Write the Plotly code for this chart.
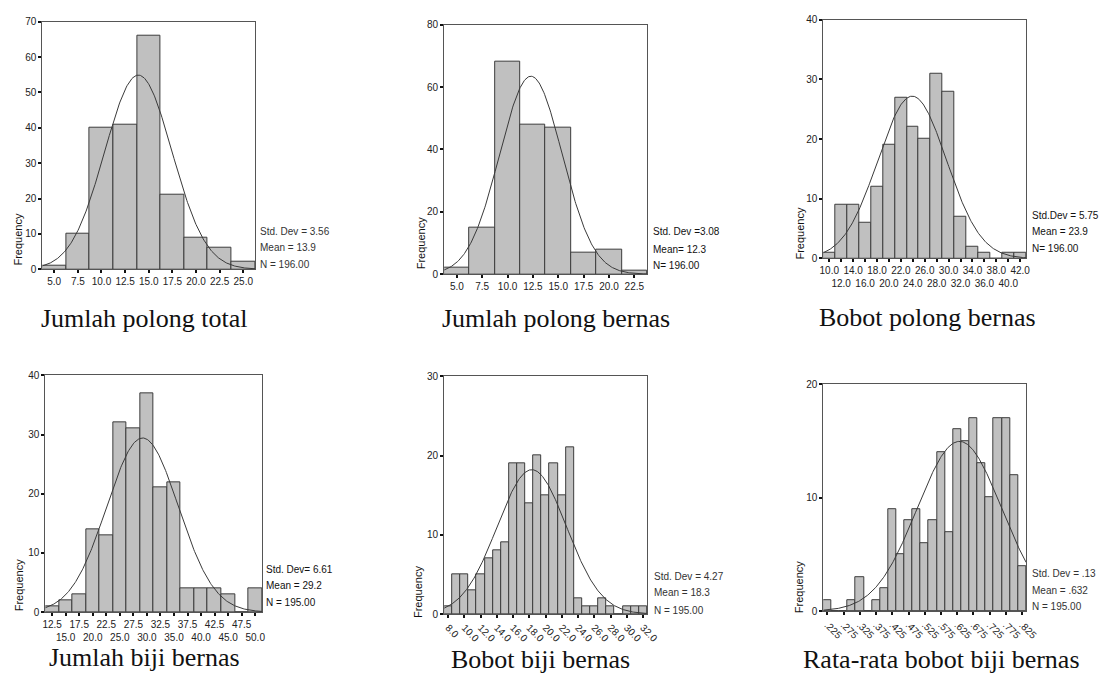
import numpy as np
import plotly.graph_objects as go

W, H = 1114, 679

# ---------------- data ----------------
p1_centers = [5.0, 7.5, 10.0, 12.5, 15.0, 17.5, 20.0, 22.5, 25.0]
p1_counts = [1, 10, 40, 41, 66, 21, 9, 6, 2]
p1_ticks = ["5.0", "7.5", "10.0", "12.5", "15.0", "17.5", "20.0", "22.5", "25.0"]

p2_centers = [5.0, 7.5, 10.0, 12.5, 15.0, 17.5, 20.0, 22.5]
p2_counts = [2, 15, 68, 48, 47, 7, 8, 1]
p2_ticks = ["5.0", "7.5", "10.0", "12.5", "15.0", "17.5", "20.0", "22.5"]

p3_centers = [10, 12, 14, 16, 18, 20, 22, 24, 26, 28, 30, 32, 34, 36, 38, 40, 42]
p3_counts = [1, 9, 9, 6, 12, 19, 27, 22, 20, 31, 28, 7, 2, 1, 0, 1, 1]
p3_ticks = ["10.0", "12.0", "14.0", "16.0", "18.0", "20.0", "22.0", "24.0", "26.0",
            "28.0", "30.0", "32.0", "34.0", "36.0", "38.0", "40.0", "42.0"]

p4_centers = [12.5, 15.0, 17.5, 20.0, 22.5, 25.0, 27.5, 30.0, 32.5, 35.0, 37.5,
              40.0, 42.5, 45.0, 47.5, 50.0]
p4_counts = [1, 2, 3, 14, 13, 32, 31, 37, 21, 22, 4, 4, 4, 3, 0, 4]
p4_ticks = ["12.5", "15.0", "17.5", "20.0", "22.5", "25.0", "27.5", "30.0", "32.5",
            "35.0", "37.5", "40.0", "42.5", "45.0", "47.5", "50.0"]

p5_centers = [8, 9, 10, 11, 12, 13, 14, 15, 16, 17, 18, 19, 20, 21, 22, 23, 24, 25,
              26, 27, 28, 29, 30, 31, 32]
p5_counts = [1, 5, 5, 3, 5, 7, 8, 9, 19, 19, 14, 20, 15, 19, 15, 21, 2, 1, 1, 2, 1,
             0, 1, 1, 1]
p5_tickvals = [8, 10, 12, 14, 16, 18, 20, 22, 24, 26, 28, 30, 32]
p5_ticks = ["8.0", "10.0", "12.0", "14.0", "16.0", "18.0", "20.0", "22.0", "24.0",
            "26.0", "28.0", "30.0", "32.0"]

p6_centers = [0.225, 0.250, 0.275, 0.300, 0.325, 0.350, 0.375, 0.400, 0.425, 0.450,
              0.475, 0.500, 0.525, 0.550, 0.575, 0.600, 0.625, 0.650, 0.675, 0.700,
              0.725, 0.750, 0.775, 0.800, 0.825]
p6_counts = [1, 0, 0, 1, 3, 0, 1, 2, 9, 5, 8, 9, 6, 8, 14, 7, 16, 15, 17, 13, 10, 17,
             17, 12, 4]
p6_tickvals = [0.225, 0.275, 0.325, 0.375, 0.425, 0.475, 0.525, 0.575, 0.625, 0.675,
               0.725, 0.775, 0.825]
p6_ticks = [".225", ".275", ".325", ".375", ".425", ".475", ".525", ".575", ".625",
            ".675", ".725", ".775", ".825"]

stats_sd = [3.56, 3.08, 5.75, 6.61, 4.27, 0.13]
stats_mean = [13.9, 12.3, 23.9, 29.2, 18.3, 0.632]
stats_n = [196, 196, 196, 195, 195, 195]
bin_width = [2.5, 2.5, 2.0, 2.5, 1.0, 0.025]

stats_text = [
    ["Std. Dev = 3.56", "Mean = 13.9", "N = 196.00"],
    ["Std. Dev =3.08", "Mean= 12.3", "N= 196.00"],
    ["Std.Dev = 5.75", "Mean = 23.9", "N= 196.00"],
    ["Std. Dev= 6.61", "Mean = 29.2", "N = 195.00"],
    ["Std. Dev = 4.27", "Mean = 18.3", "N = 195.00"],
    ["Std. Dev = .13", "Mean = .632", "N = 195.00"],
]
captions = ["Jumlah polong total", "Jumlah polong bernas", "Bobot polong bernas",
            "Jumlah biji bernas", "Bobot biji bernas", "Rata-rata bobot biji bernas"]

# ---------------- layout geometry (pixels) ----------------
rects = [  # x0, x1, ytop, ybottom
    (39, 255, 16, 268),
    (447, 653, 19, 273),
    (832, 1038, 14, 257),
    (42, 262, 376, 617),
    (447, 653, 377, 619),
    (832, 1038, 385, 616),
]
xranges = [(3.75, 26.25), (3.75, 23.75), (9, 43), (11.25, 51.25), (7.5, 32.5),
           (0.2125, 0.8375)]
yranges = [(0, 70), (0, 80), (0, 40), (0, 40), (0, 30), (0, 20)]
ydticks = [10, 20, 10, 10, 10, 10]
stats_pos = [(258, [230, 246, 263]), (657, [230, 248, 264]), (1042, [213, 230, 247]),
             (264, [574, 590, 607]), (658, [581, 597, 615]), (1042, [578, 595, 611])]
stats_col = ["#333", "#111", "#111", "#111", "#333", "#333"]
freq_pos = [(14, 238), (423, 242), (808, 232), (15, 590), (421, 597), (807, 592)]
cap_pos = [(143, 318), (561, 318), (938, 317), (143, 663), (545, 665), (952, 665)]


def px(x):
    return x / W


def py(y):
    return 1 - y / H


def two_rows(labels):
    return [t if i % 2 == 0 else "<br>" + t for i, t in enumerate(labels)]


centers_all = [p1_centers, p2_centers, p3_centers, p4_centers, p5_centers, p6_centers]
counts_all = [p1_counts, p2_counts, p3_counts, p4_counts, p5_counts, p6_counts]
tickvals_all = [p1_centers, p2_centers, p3_centers, p4_centers, p5_tickvals, p6_tickvals]
ticktext_all = [p1_ticks, p2_ticks, two_rows(p3_ticks), two_rows(p4_ticks), p5_ticks,
                p6_ticks]
tickangles = [0, 0, 0, 0, 45, 45]

fig = go.Figure()
annotations = []
axis_font = dict(family="Liberation Sans, Arial, sans-serif", size=10, color="#222")

for i in range(6):
    k = i + 1
    xa = "x" if k == 1 else f"x{k}"
    ya = "y" if k == 1 else f"y{k}"
    fig.add_trace(go.Bar(
        x=centers_all[i], y=counts_all[i], width=bin_width[i],
        marker=dict(color="#c0c0c0", line=dict(color="#3c3c3c", width=1)),
        xaxis=xa, yaxis=ya, hoverinfo="x+y"))
    lo, hi = xranges[i]
    xs = np.linspace(lo, hi, 300)
    m, s, n, bw = stats_mean[i], stats_sd[i], stats_n[i], bin_width[i]
    ys = n * bw / (s * np.sqrt(2 * np.pi)) * np.exp(-0.5 * ((xs - m) / s) ** 2)
    fig.add_trace(go.Scatter(x=xs, y=ys, mode="lines",
                             line=dict(color="#3a3a3a", width=1),
                             xaxis=xa, yaxis=ya, hoverinfo="skip"))

    x0, x1, yt, yb = rects[i]
    xkey = "xaxis" if k == 1 else f"xaxis{k}"
    ykey = "yaxis" if k == 1 else f"yaxis{k}"
    fig.update_layout(**{
        xkey: dict(domain=[px(x0), px(x1)], anchor=ya, range=list(xranges[i]),
                   tickmode="array", tickvals=tickvals_all[i],
                   ticktext=ticktext_all[i], tickangle=tickangles[i],
                   ticks="outside", ticklen=3, tickwidth=2, tickcolor="#111",
                   showline=True, linecolor="#555", linewidth=1, mirror=True,
                   showgrid=False, zeroline=False, tickfont=axis_font,
                   fixedrange=True),
        ykey: dict(domain=[py(yb), py(yt)], anchor=xa, range=list(yranges[i]),
                   dtick=ydticks[i], tick0=0,
                   ticks="outside", ticklen=3, tickwidth=2, tickcolor="#111",
                   showline=True, linecolor="#555", linewidth=1, mirror=True,
                   showgrid=False, zeroline=False, tickfont=axis_font,
                   fixedrange=True),
    })

    sx, sys_ = stats_pos[i]
    for t, yy in zip(stats_text[i], sys_):
        annotations.append(dict(x=px(sx), y=py(yy), xref="paper", yref="paper",
                                text=t, showarrow=False, xanchor="left",
                                yanchor="middle",
                                font=dict(family="Liberation Sans, Arial, sans-serif",
                                          size=10, color=stats_col[i])))
    fx, fy = freq_pos[i]
    annotations.append(dict(x=px(fx), y=py(fy), xref="paper", yref="paper",
                            text="Frequency", showarrow=False, textangle=-90,
                            xanchor="center", yanchor="middle",
                            font=dict(family="Liberation Sans, Arial, sans-serif",
                                      size=11, color="#111")))
    cx, cy = cap_pos[i]
    annotations.append(dict(x=px(cx), y=py(cy), xref="paper", yref="paper",
                            text=captions[i], showarrow=False, xanchor="center",
                            yanchor="middle",
                            font=dict(family="Liberation Serif, Times New Roman, serif",
                                      size=26, color="#111")))

fig.update_layout(width=W, height=H, margin=dict(l=0, r=0, t=0, b=0),
                  paper_bgcolor="white", plot_bgcolor="white", showlegend=False,
                  bargap=0, annotations=annotations)

fig.write_html("out.html", config={"displayModeBar": False},
               post_script="document.body.style.margin='0';"
                           "document.body.style.overflow='hidden';")
